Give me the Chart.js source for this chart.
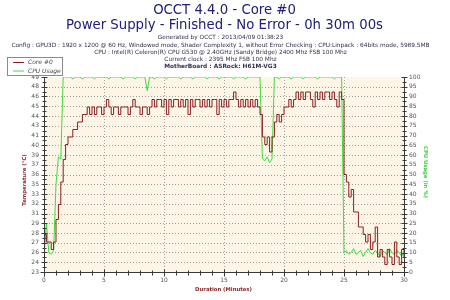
<!DOCTYPE html>
<html><head><meta charset="utf-8">
<script src="https://cdn.jsdelivr.net/npm/chart.js@4.4.1/dist/chart.umd.min.js"></script>
<style>html,body{margin:0;padding:0;background:#fff}</style>
</head><body>
<canvas id="c" width="450" height="300"></canvas>
<script>
const titleLines = ["OCCT 4.4.0 - Core #0", "Power Supply - Finished - No Error - 0h 30m 00s"];
const infoLines = [
  "Generated by OCCT : 2013/04/09 01:38:23",
  "Config : GPU3D : 1920 x 1200 @ 60 Hz, Windowed mode, Shader Complexity 1, without Error Checking : CPU:Linpack : 64bits mode, 5989.5MB",
  "CPU : Intel(R) Celeron(R) CPU G530 @ 2.40GHz (Sandy Bridge) 2400 Mhz FSB 100 Mhz",
  "Current clock : 2395 Mhz FSB 100 Mhz",
  "MotherBoard : ASRock: H61M-VG3"
];
const seriesNames = ["Core #0", "CPU Usage"];
const axisTitles = ["Temperature (°C)", "CPU Usage (in %)", "Duration (Minutes)"];
const sampleStep = 0.2; // minutes between samples
const xTickValues = [0, 5, 10, 15, 20, 25, 30];
const tempRange = [23, 49];
const tempTickLabels = [23, 24, 26, 27, 28, 29, 31, 32, 33, 35, 36, 37, 39, 40, 41, 43, 44, 45, 46, 48, 49];
const cpuRange = [0, 100];

const coreTemp = [
  28, 27, 27, 26, 27, 30, 32, 35, 38, 40,
  41, 41, 42, 42, 43, 43, 44, 44, 45, 44,
  45, 44, 45, 45, 44, 45, 46, 45, 44, 45,
  45, 44, 45, 45, 45, 44, 45, 46, 45, 45,
  44, 45, 45, 44, 45, 46, 45, 46, 46, 45,
  46, 44, 46, 45, 46, 46, 45, 46, 45, 46,
  44, 46, 45, 46, 46, 45, 46, 45, 46, 45,
  46, 46, 44, 46, 45, 46, 45, 46, 46, 47,
  46, 45, 46, 45, 46, 45, 46, 45, 46, 45,
  44, 41, 40, 41, 39, 41, 43, 44, 43, 44,
  45, 45, 46, 45, 46, 47, 46, 47, 46, 47,
  47, 46, 45, 47, 46, 47, 46, 47, 47, 46,
  47, 46, 45, 47, 46, 36, 35, 33, 34, 31,
  31, 29, 29, 28, 27, 28, 26, 27, 29, 25,
  26, 25, 24, 26, 25, 24, 27, 25, 24, 26, 25
];
const cpuUsage = [
  8, 25, 10, 9, 11, 45, 59, 58, 100, 100,
  100, 100, 99, 100, 100, 100, 99, 100, 100, 100,
  100, 99, 100, 100, 100, 100, 100, 99, 100, 100,
  100, 100, 100, 99, 100, 100, 100, 100, 99, 100,
  100, 100, 100, 93, 100, 100, 99, 100, 100, 100,
  100, 99, 100, 100, 100, 100, 100, 99, 100, 100,
  100, 100, 99, 100, 100, 100, 100, 100, 99, 100,
  100, 100, 100, 99, 100, 100, 100, 100, 100, 99,
  100, 100, 100, 100, 99, 100, 100, 100, 100, 100,
  100, 58, 57, 59, 56, 58, 100, 100, 99, 100,
  100, 100, 100, 99, 100, 100, 100, 100, 99, 100,
  100, 100, 100, 100, 99, 100, 100, 100, 100, 100,
  100, 99, 100, 100, 100, 10, 11, 9, 10, 12,
  9, 10, 11, 8, 10, 12, 10, 9, 11, 10,
  8, 11, 10, 9, 12, 10, 9, 11, 10, 8, 10
];

const TEMP_COLOR = '#8b1c1c';
const CPU_COLOR = '#3fdc3f';
const AXIS_TITLE_COLOR = '#8a2424';

function fitSize(ctx, text, style, family, target) {
  ctx.font = style + ' 100px ' + family;
  return 100 * target / ctx.measureText(text).width;
}

const decor = {
  id: 'decor',
  beforeDatasetsDraw(chart) {
    const { ctx, chartArea: a, scales } = chart;
    ctx.save();
    ctx.fillStyle = '#fdf6e6';
    ctx.fillRect(a.left, a.top, a.right - a.left, a.bottom - a.top);
    ctx.strokeStyle = '#a0a0a0';
    ctx.lineWidth = 1;
    ctx.setLineDash([1, 2]);
    scales.y.ticks.forEach(t => {
      const y = Math.round(scales.y.getPixelForValue(t.value)) + 0.5;
      if (y > a.top + 1 && y < a.bottom - 1) {
        ctx.beginPath(); ctx.moveTo(a.left + 2, y); ctx.lineTo(a.right - 2, y); ctx.stroke();
      }
    });
    scales.x.ticks.forEach(t => {
      const x = Math.round(scales.x.getPixelForValue(t.value)) + 0.5;
      if (x > a.left + 1 && x < a.right - 1) {
        ctx.beginPath(); ctx.moveTo(x, a.top); ctx.lineTo(x, a.bottom - 2); ctx.stroke();
      }
    });
    ctx.restore();
  },
  afterDatasetsDraw(chart) {
    const { ctx, chartArea: a, scales } = chart;
    ctx.save();
    ctx.setLineDash([]);
    ctx.strokeStyle = '#3a3a3a';
    ctx.lineWidth = 1;
    const L = Math.round(a.left) + 0.5, R = Math.round(a.right) + 0.5, B = Math.round(a.bottom) + 0.5, T = Math.round(a.top);
    const seg = (x1, y1, x2, y2) => { ctx.beginPath(); ctx.moveTo(x1, y1); ctx.lineTo(x2, y2); ctx.stroke(); };
    seg(L, T, L, B + 4);
    seg(R, T, R, B + 4);
    seg(L - 4, B, R + 4, B);
    const yt = scales.y.ticks;
    yt.forEach((t, k) => {
      const y = Math.round(scales.y.getPixelForValue(t.value)) + 0.5;
      seg(L - 3, y, L + 3, y);
      if (k < yt.length - 1) {
        const ym = Math.round(scales.y.getPixelForValue((t.value + yt[k + 1].value) / 2)) + 0.5;
        seg(L - 2, ym, L + 2, ym);
      }
    });
    const rt = scales.y1.ticks;
    rt.forEach((t, k) => {
      const y = Math.round(scales.y1.getPixelForValue(t.value)) + 0.5;
      seg(R - 3, y, R + 3, y);
      if (k < rt.length - 1) {
        const ym = Math.round(scales.y1.getPixelForValue((t.value + rt[k + 1].value) / 2)) + 0.5;
        seg(R - 2, ym, R + 2, ym);
      }
    });
    for (let m = scales.x.min; m <= scales.x.max; m++) {
      const x = Math.round(scales.x.getPixelForValue(m)) + 0.5;
      if (m % 5 === 0) seg(x, B - 3, x, B + 4); else seg(x, B - 2, x, B + 3);
    }

    ctx.textAlign = 'center';
    ctx.textBaseline = 'middle';
    ctx.fillStyle = '#20207a';
    const fam = '"DejaVu Sans", sans-serif';
    const s1 = fitSize(ctx, titleLines[1], 'normal', fam, 317);
    ctx.font = s1.toFixed(2) + 'px ' + fam;
    ctx.fillText(titleLines[0], 224.5, 11);
    ctx.fillText(titleLines[1], 224.5, 25.5);
    const sInfo = fitSize(ctx, infoLines[1], 'normal', fam, 419);
    ctx.fillStyle = '#30304a';
    const infoY = [37.5, 45, 52, 59, 66];
    infoLines.forEach((ln, i) => {
      ctx.font = (i === 4 ? 'bold ' : '') + sInfo.toFixed(2) + 'px ' + fam;
      ctx.fillText(ln, 220.5, infoY[i]);
    });

    const sAx = fitSize(ctx, axisTitles[2], 'bold', fam, 57);
    ctx.font = 'bold ' + sAx.toFixed(2) + 'px ' + fam;
    ctx.fillStyle = AXIS_TITLE_COLOR;
    ctx.fillText(axisTitles[2], 223.5, 290);
    ctx.save();
    ctx.translate(25, 180);
    ctx.rotate(-Math.PI / 2);
    ctx.fillText(axisTitles[0], 0, 0);
    ctx.restore();
    ctx.save();
    ctx.translate(425, 172);
    ctx.rotate(Math.PI / 2);
    ctx.fillStyle = '#3ccc3c';
    ctx.fillText(axisTitles[1], 0, 0);
    ctx.restore();

    ctx.fillStyle = '#ffffff';
    ctx.fillRect(7.5, 57.5, 55, 18);
    ctx.strokeStyle = '#8a8a8a';
    ctx.strokeRect(7.5, 57.5, 55, 18);
    const cols = [TEMP_COLOR, CPU_COLOR];
    const ly = [62, 70.5];
    ctx.textAlign = 'left';
    ctx.font = 'italic 6px ' + fam;
    seriesNames.forEach((n, i) => {
      ctx.strokeStyle = cols[i];
      seg(13, ly[i] + 0.5, 24, ly[i] + 0.5);
      ctx.fillStyle = '#444';
      ctx.fillText(n, 28, ly[i] + 0.5);
    });
    ctx.restore();
  }
};

const toPoints = arr => arr.map((v, i) => ({ x: i * sampleStep, y: v }));

new Chart(document.getElementById('c'), {
  type: 'line',
  data: {
    datasets: [
      { label: seriesNames[0], data: toPoints(coreTemp), yAxisID: 'y', borderColor: TEMP_COLOR, borderWidth: 1, pointRadius: 0, tension: 0, stepped: true },
      { label: seriesNames[1], data: toPoints(cpuUsage), yAxisID: 'y1', borderColor: CPU_COLOR, borderWidth: 1, pointRadius: 0, tension: 0 }
    ]
  },
  options: {
    responsive: false,
    animation: false,
    devicePixelRatio: 1,
    layout: { padding: { top: 77, left: 0, right: 0, bottom: 0 } },
    plugins: { legend: { display: false }, tooltip: { enabled: false }, title: { display: false } },
    scales: {
      x: {
        type: 'linear', min: 0, max: 30,
        afterBuildTicks: s => { s.ticks = xTickValues.map(v => ({ value: v })); },
        afterFit: s => { s.height = 28; },
        grid: { display: false, drawTicks: false }, border: { display: false },
        ticks: { autoSkip: false, padding: 5, font: { family: 'DejaVu Sans', size: 6 }, color: '#555', maxRotation: 0 }
      },
      y: {
        type: 'linear', position: 'left', min: tempRange[0], max: tempRange[1],
        afterBuildTicks: s => {
          const n = tempTickLabels.length - 1, st = (tempRange[1] - tempRange[0]) / n;
          s.ticks = tempTickLabels.map((_, k) => ({ value: tempRange[0] + k * st }));
        },
        afterFit: s => { s.width = 44; },
        grid: { display: false, drawTicks: false }, border: { display: false },
        ticks: { autoSkip: false, padding: 5, font: { family: 'DejaVu Sans', size: 6 }, color: '#555',
          callback: (v, i) => String(tempTickLabels[i]) }
      },
      y1: {
        type: 'linear', position: 'right', min: cpuRange[0], max: cpuRange[1],
        ticks: { autoSkip: false, stepSize: 5, padding: 5, font: { family: 'DejaVu Sans', size: 6 }, color: '#555' },
        afterFit: s => { s.width = 46; },
        grid: { display: false, drawTicks: false }, border: { display: false }
      }
    }
  },
  plugins: [decor]
});
</script>
</body></html>
